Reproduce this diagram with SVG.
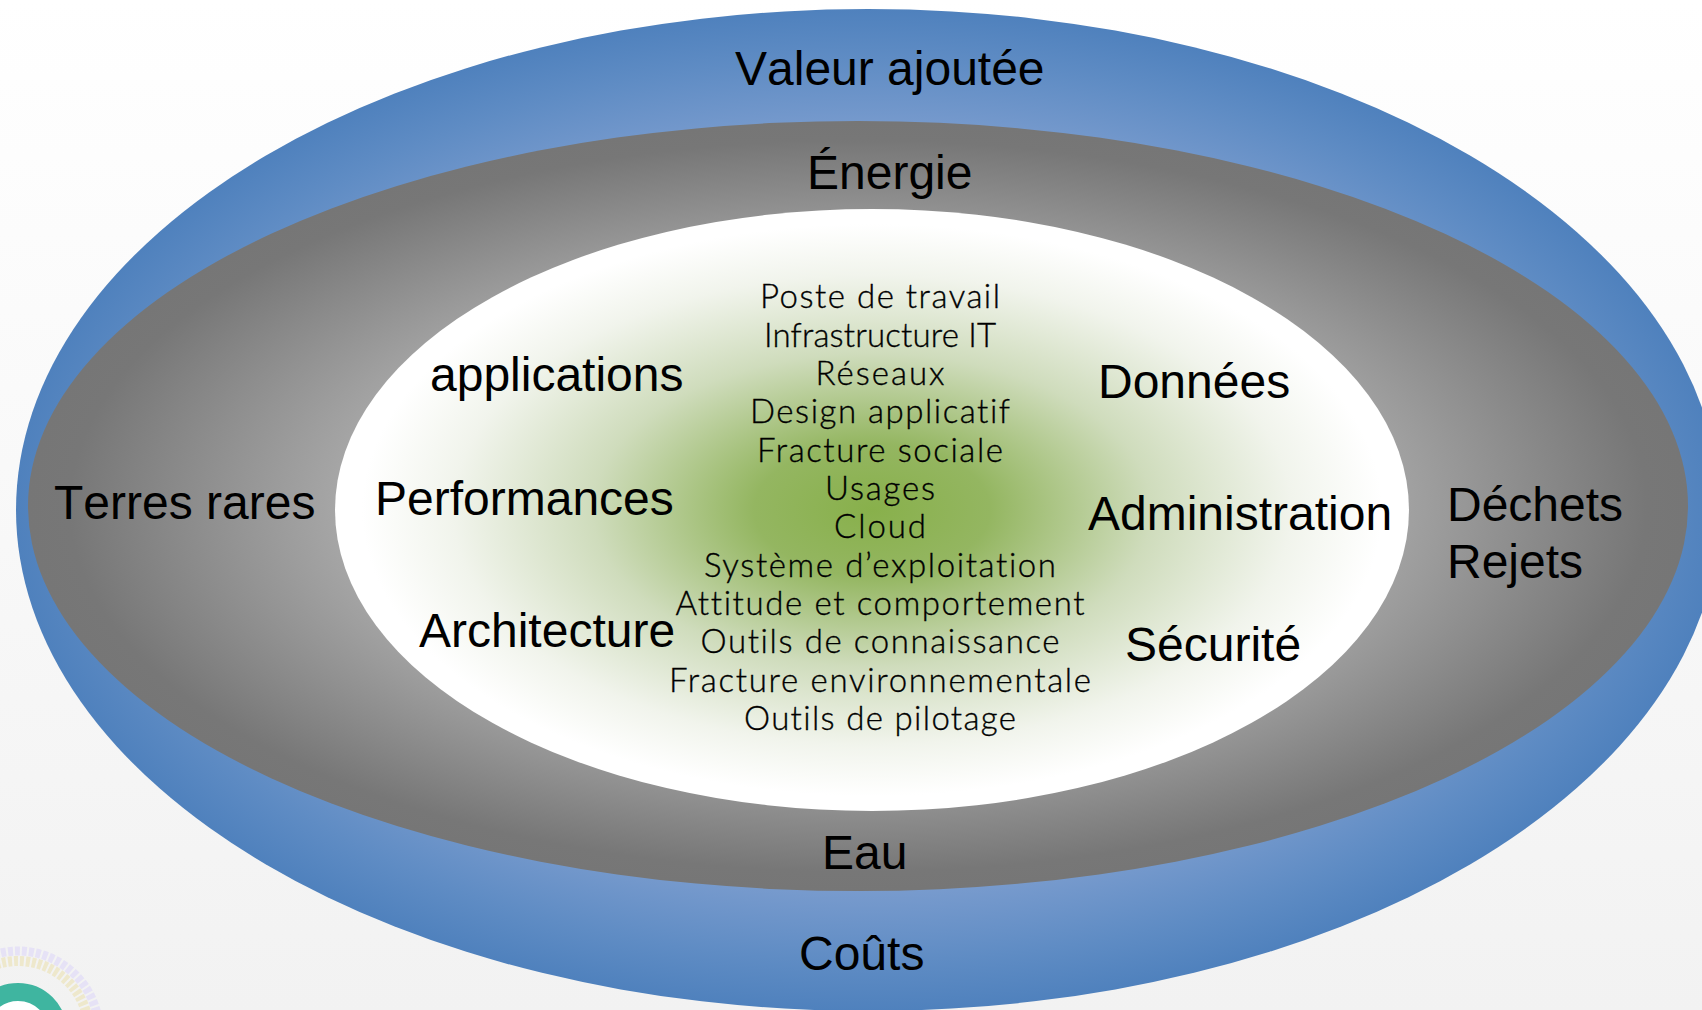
<svg xmlns="http://www.w3.org/2000/svg" width="1702" height="1010" viewBox="0 0 1702 1010">
<style>
.m{font-family:"Liberation Sans",Arial,sans-serif;font-size:48px;fill:#000;font-kerning:none}
.l{font-family:"Lato","Liberation Sans",sans-serif;font-size:33px;font-weight:300;fill:#000;stroke:#000;stroke-width:.35;text-anchor:middle;font-variant-ligatures:none}
</style>
<defs>
<linearGradient id="bg" x1="0" y1="0" x2="0" y2="1"><stop offset="0" stop-color="#fff"/><stop offset="1" stop-color="#f2f2f2"/></linearGradient>
<radialGradient id="blue" cx=".5" cy=".5" r=".5"><stop offset="0" stop-color="#c5d3e8"/><stop offset=".72" stop-color="#7f9fd0"/><stop offset=".9" stop-color="#5f8cc4"/><stop offset="1" stop-color="#4f81bd"/></radialGradient>
<radialGradient id="gray" cx=".5" cy=".5" r=".5"><stop offset="0" stop-color="#f0f0f0"/><stop offset=".6" stop-color="#aaa"/><stop offset=".95" stop-color="#777"/><stop offset="1" stop-color="#767676"/></radialGradient>
<radialGradient id="green" cx=".5" cy=".5" r=".5"><stop offset="0" stop-color="#88b04b"/><stop offset=".22" stop-color="#94b661"/><stop offset=".52" stop-color="#cfdcbc"/><stop offset=".78" stop-color="#f1f4ec"/><stop offset=".95" stop-color="#fff"/></radialGradient>
</defs>
<rect width="1702" height="1010" fill="url(#bg)"/>
<g id="logo">
<circle cx="18" cy="1032" r="81" fill="none" stroke="#e6e2f6" stroke-width="9" stroke-dasharray="5 2"/>
<circle cx="18" cy="1032" r="71" fill="none" stroke="#eee8cc" stroke-width="10" stroke-dasharray="4 2"/>
<circle cx="18" cy="1032" r="40" fill="#fff" stroke="#3fb5a0" stroke-width="18"/>
</g>
<g id="outer"><ellipse cx="868" cy="510" rx="852" ry="501" fill="url(#blue)"/>
<text class="m" x="735" y="85">Valeur ajoutée</text>
<text class="m" x="799" y="970">Coûts</text></g>
<g id="middle"><ellipse cx="858" cy="506" rx="830" ry="385" fill="url(#gray)"/>
<text class="m" x="807" y="189">Énergie</text>
<text class="m" x="822" y="869">Eau</text>
<text class="m" x="54" y="519">Terres rares</text>
<text class="m" x="1447" y="521">Déchets</text>
<text class="m" x="1447" y="578">Rejets</text></g>
<g id="inner"><ellipse cx="872" cy="510" rx="537" ry="301" fill="url(#green)"/>
<text class="m" x="430" y="391">applications</text>
<text class="m" x="375" y="515">Performances</text>
<text class="m" x="419" y="647">Architecture</text>
<text class="m" x="1098" y="398">Données</text>
<text class="m" x="1088" y="530">Administration</text>
<text class="m" x="1125" y="661">Sécurité</text>
<text class="l" x="880" y="308" textLength="240">Poste de travail</text>
<text class="l" x="880" y="347" textLength="232">Infrastructure IT</text>
<text class="l" x="880" y="385" textLength="129">Réseaux</text>
<text class="l" x="880" y="423" textLength="260">Design applicatif</text>
<text class="l" x="880" y="462" textLength="246">Fracture sociale</text>
<text class="l" x="880" y="500" textLength="110">Usages</text>
<text class="l" x="880" y="538" textLength="92">Cloud</text>
<text class="l" x="880" y="577" textLength="352">Système d’exploitation</text>
<text class="l" x="880" y="615" textLength="409">Attitude et comportement</text>
<text class="l" x="880" y="653" textLength="359">Outils de connaissance</text>
<text class="l" x="880" y="692" textLength="422">Fracture environnementale</text>
<text class="l" x="880" y="730" textLength="272">Outils de pilotage</text></g>
<g id="connectors"></g>
</svg>
